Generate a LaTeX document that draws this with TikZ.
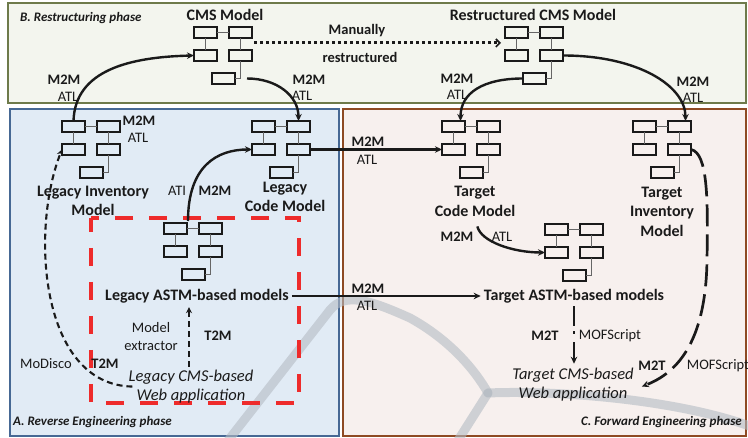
\documentclass[tikz,border=0pt]{standalone}
\usepackage{fontspec}
\setmainfont{Carlito}
\usetikzlibrary{arrows.meta,calc}
\definecolor{Bfill}{HTML}{F3F5EE}
\definecolor{Bline}{HTML}{6E7A4A}
\definecolor{Afill}{HTML}{E1EBF5}
\definecolor{Aline}{HTML}{466894}
\definecolor{Cfill}{HTML}{F7F0EE}
\definecolor{Cline}{HTML}{8E4A23}
\definecolor{RedD}{HTML}{EE2B2B}
\definecolor{Wm}{HTML}{B4BBC3}
\definecolor{Ink}{HTML}{1A1A1A}
\newcommand\mdlicon[3]{%
  \begin{scope}[shift={(#2,#3)}]
    \node[mbox] (#1tl) at (11.5,5.5) {};
    \node[mbox] (#1tr) at (46.5,5.5) {};
    \node[mbox] (#1ml) at (11.5,28.5) {};
    \node[mbox] (#1mr) at (46.5,28.5) {};
    \node[mbox] (#1b) at (29.5,51.5) {};
  \end{scope}
  \draw[mlink] (#1tl.east) -- (#1tr.west);
  \draw[mlink] (#1tl.south) -- (#1ml.north);
  \draw[mlink] (#1tr.south) -- (#1mr.north);
  \draw[mlink] (#1mr.south) |- (#1b.east);
}
\begin{document}
\begin{tikzpicture}[x=1pt,y=-1pt,
  mbox/.style={draw=Ink,line width=1.5pt,minimum width=23pt,minimum height=11pt,inner sep=0pt,outer sep=0pt},
  mlink/.style={draw=black!60,line width=0.9pt},
  conn/.style={draw=Ink,line width=2.4pt,-{Stealth[length=7pt,width=6.5pt]}},
  dconn/.style={draw=Ink,line width=2.1pt,dash pattern=on 6pt off 4pt,-{Stealth[length=6pt,width=6pt]}},
  ldconn/.style={draw=Ink,line width=2.7pt,dash pattern=on 22pt off 8pt,-{Stealth[length=7pt,width=6.5pt]}},
  dotconn/.style={draw=Ink,line width=3pt,dash pattern=on 3pt off 3pt,-{Straight Barb[length=4pt,width=8pt,line width=1.6pt]}},
  lbl/.style={font=\fontsize{14.5}{17}\selectfont,inner sep=0pt,text=Ink},
  blbl/.style={font=\fontsize{14.5}{17}\selectfont\bfseries,inner sep=0pt,text=Ink},
  mname/.style={font=\fontsize{16}{19.5}\selectfont\bfseries,align=center,inner sep=0pt,text=Ink},
  wname/.style={font=\fontsize{16.5}{19}\selectfont\itshape,align=center,inner sep=0pt,text=Ink},
  phase/.style={font=\fontsize{13}{15}\selectfont\bfseries\itshape,inner sep=0pt,text=Ink}]
\useasboundingbox (0,0) rectangle (748,438);
% panels
\draw[fill=Bfill,draw=Bline,line width=2.6pt] (8,3) rectangle (746,103);
\draw[fill=Afill,draw=Aline,line width=2pt] (10,109) rectangle (339,436);
\draw[fill=Cfill,draw=Cline,line width=2pt] (343,109) rectangle (746,436);
% background watermark strokes
\begin{scope}[draw=Wm,line width=9pt,opacity=0.6,line cap=round]
  \draw (227,442) -- (330,310) .. controls (345,292) and (370,300) .. (410,318)
        .. controls (450,340) and (475,370) .. (488,393);
  \draw (488,393) -- (457,442);
  \draw (488,393) .. controls (560,390) and (680,400) .. (752,427);
\end{scope}
% red dashed frame
\draw[draw=RedD,line width=4.6pt,dash pattern=on 18pt off 16pt,dash phase=4pt] (91,218) rectangle (299,403);
% model icons
\mdlicon{CMS}{194}{27}
\mdlicon{RS}{505}{27}
\mdlicon{LI}{62}{121}
\mdlicon{LC}{252}{121}
\mdlicon{LA}{164}{223}
\mdlicon{TC}{442}{121}
\mdlicon{TI}{633}{121}
\mdlicon{TA}{545}{224}
% names
\node[mname] (CMSname) at (225,15) {CMS Model};
\node[mname] (RSname) at (533,15) {Restructured CMS Model};
\node[mname] (LIname) at (93,201) {Legacy Inventory\\Model};
\node[mname] (LCname) at (285,197) {Legacy\\Code Model};
\node[mname] (TCname) at (475,201.5) {Target\\Code Model};
\node[mname] (TIname) at (662,211.5) {Target\\Inventory\\Model};
\node[mname,inner sep=3pt] (LAlab) at (197,296) {Legacy ASTM-based models};
\node[mname,inner sep=3pt] (TAlab) at (574,296) {Target ASTM-based models};
\node[wname] (LWeb) at (191,386.5) {Legacy CMS-based\\Web application};
\node[wname] (TWeb) at (573,384.5) {Target CMS-based\\Web application};
% phase titles
\node[phase,anchor=west] (phB) at (20,18) {B. Restructuring phase};
\node[phase,anchor=west] (phA) at (13,422) {A. Reverse Engineering phase};
\node[phase,anchor=east] (phC) at (742,422) {C. Forward Engineering phase};
% small labels
\node[blbl] (man1) at (357,31) {Manually};
\node[blbl] (man2) at (360,57) {restructured};
\node[blbl] (l1a) at (64,80) {M2M};
\node[lbl] (l1b) at (68,97) {ATL};
\node[blbl] (l2a) at (309,80) {M2M};
\node[lbl] (l2b) at (302,96) {ATL};
\node[blbl] (l3a) at (457,79) {M2M};
\node[lbl] (l3b) at (457,95) {ATL};
\node[blbl] (l4a) at (693,82) {M2M};
\node[lbl] (l4b) at (693,98) {ATL};
\node[blbl] (l5a) at (139,121) {M2M};
\node[lbl] (l5b) at (138,138) {ATL};
\node[lbl] (l6b) at (177,191) {ATI};
\node[blbl] (l6a) at (215,191) {M2M};
\node[blbl] (l7a) at (368,142) {M2M};
\node[lbl] (l7b) at (367,160) {ATL};
\node[blbl] (l8a) at (368,289) {M2M};
\node[lbl] (l8b) at (367,306) {ATL};
\node[blbl] (l9a) at (457,237) {M2M};
\node[lbl] (l9b) at (502,237) {ATL};
\node[blbl] (t2m1) at (218,336) {T2M};
\node[lbl] (mex1) at (151,328) {Model};
\node[lbl] (mex2) at (151,346) {extractor};
\node[lbl] (modisco) at (46,364) {MoDisco};
\node[blbl] (t2m2) at (105,364) {T2M};
\node[blbl] (m2t1) at (545,336) {M2T};
\node[lbl] (mof1) at (610,336) {MOFScript};
\node[blbl] (m2t2) at (652,366) {M2T};
\node[lbl] (mof2) at (718,366) {MOFScript};
% connectors
\coordinate (dotS) at (254,43);
\coordinate (dotE) at (501,43);
\draw[dotconn] (dotS) -- (dotE);
\draw[conn] (LItl.north) .. controls (75,70) and (130,57) .. (CMSml.west);
\draw[conn,shorten <=12pt] (CMSb.east) .. controls +(42,0) and +(0,-25) .. (LCtr.north);
\draw[conn] (RSb.west) .. controls +(-40,0) and +(0,-28) .. ([xshift=7pt]TCtl.north);
\draw[conn] (RSmr.east) .. controls +(75,0) and +(0,-35) .. ([xshift=6pt]TItr.north);
\draw[conn] (LCmr.east) -- (TCml.west);
\coordinate (LAstart) at ($(LAtl.north east)+(1,-2)$);
\draw[conn] (LAstart) .. controls +(0,-55) and +(-35,0) .. (LCml.west);
\draw[conn,shorten <=10pt] (TCname.south) .. controls +(6,25) and +(-32,0) .. (TAml.west);
\draw[conn] (LAlab.east) -- (LAlab.east -| TAlab.west);
\draw[draw=Ink,line width=2.8pt,dash pattern=on 20pt off 5pt on 3pt off 8pt,-{Stealth[length=7pt,width=6.5pt]},shorten >=4pt]
  (TAlab.south) -- (TAlab.south |- TWeb.north);
\draw[ldconn] (TImr.east) .. controls (708,153) and (708,200) .. (707,260)
   .. controls (706,330) and (685,370) .. ([xshift=8pt,yshift=-2pt]TWeb.east);
\draw[dconn,shorten >=1pt,shorten <=3pt] ([xshift=-2pt]LWeb.north) -- ([xshift=-2pt]LWeb.north |- LAlab.south);
\draw[dconn,shorten <=-4pt] (LWeb.west) .. controls (40,385) and (30,230) .. (LIml.west);
\end{tikzpicture}
\end{document}
